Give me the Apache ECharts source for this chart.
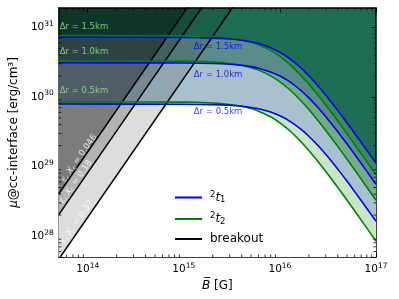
<!DOCTYPE html>
<html><head><meta charset="utf-8">
<script src="https://cdn.jsdelivr.net/npm/echarts@6/dist/echarts.min.js"></script>
<style>html,body{margin:0;padding:0;background:#fff}#c{width:399px;height:299px}</style>
</head><body><div id="c"></div>
<script>
// ---- data ----
const B = [5e13, 1e15, 2e15, 3e15, 4e15, 5e15, 6e15, 8e15, 1e16, 1.25e16, 1.6e16, 2e16, 2.5e16, 3.2e16, 4e16, 5e16, 6.3e16, 8e16, 1e17];
const t1_15 = [7.2e30, 7.15e30, 7.02e30, 6.81e30, 6.53e30, 6.21e30, 5.85e30, 5.11e30, 4.39e30, 3.6e30, 2.73e30, 2.02e30, 1.44e30, 9.53e29, 6.41e29, 4.23e29, 2.73e29, 1.72e29, 1.11e29];
const t2_15 = [7.65e30, 7.57e30, 7.36e30, 7.01e30, 6.59e30, 6.12e30, 5.62e30, 4.67e30, 3.83e30, 2.98e30, 2.15e30, 1.53e30, 1.06e30, 6.81e29, 4.50e29, 2.95e29, 1.88e29, 1.18e29, 7.57e28];
const t1_10 = [3.1e30, 3.08e30, 3.03e30, 2.95e30, 2.85e30, 2.73e30, 2.59e30, 2.29e30, 2.0e30, 1.67e30, 1.29e30, 9.7e29, 7.0e29, 4.68e29, 3.17e29, 2.10e29, 1.36e29, 8.59e28, 5.55e28];
const t2_10 = [3.3e30, 3.27e30, 3.17e30, 3.03e30, 2.84e30, 2.64e30, 2.43e30, 2.01e30, 1.65e30, 1.29e30, 9.27e29, 6.6e29, 4.55e29, 2.94e29, 1.94e29, 1.27e29, 8.11e28, 5.08e28, 3.27e28];
const t1_05 = [7.9e29, 7.86e29, 7.75e29, 7.58e29, 7.34e29, 7.06e29, 6.75e29, 6.06e29, 5.35e29, 4.53e29, 3.56e29, 2.72e29, 1.99e29, 1.35e29, 9.17e28, 6.13e28, 3.97e28, 2.51e28, 1.63e28];
const t2_05 = [8.5e29, 8.42e29, 8.17e29, 7.79e29, 7.33e29, 6.80e29, 6.25e29, 5.19e29, 4.25e29, 3.32e29, 2.39e29, 1.70e29, 1.17e29, 7.57e28, 5.00e28, 3.27e28, 2.09e28, 1.31e28, 8.42e27];

// breakout lines (mu ~ B^2), two points each
const bo046_B = [5e13, 1.5e15], bo046_mu = [4.06e28, 3.65e31];
const bo018_B = [5e13, 2e15],   bo018_mu = [2.03e28, 3.25e31];
const bo037_B = [5e13, 4e15],   bo037_mu = [4.66e27, 2.98e31];
const boValues = ['0.046', '0.18', '0.37'];
const boLabelAt = [[8.1e13, 1.31e29], [7.5e13, 6.05e28], [7.7e13, 1.6e28]];

const drNames = ['1.5', '1.0', '0.5'];
const drGreenAt = [[5.1e13, 1.03e31], [5.1e13, 4.5e30], [5.1e13, 1.22e30]];
const drBlueAt = [[1.27e15, 5.2e30], [1.27e15, 2.08e30], [1.27e15, 6.1e29]];

const xTickExp = [14, 15, 16, 17];
const yTickExp = [28, 29, 30, 31];
const xRange = [5e13, 1e17];
const yRange = [5e27, 1.9e31];

// ---- build ----
const FONT = 'DejaVu Sans';
const pts = (xs, ys) => xs.map((x, i) => [x, ys[i]]);
const hi = (a, b) => a.map((v, i) => Math.max(v, b[i]));
const lo = (a, b) => a.map((v, i) => Math.min(v, b[i]));
const SM = 0.35;

function fill(name, ys, color) {
  return { type: 'line', name, data: pts(B, ys), smooth: SM, symbol: 'none', silent: true,
    lineStyle: { width: 0, opacity: 0 }, areaStyle: { color, opacity: 1 }, z: 1 };
}
function curve(name, ys, color) {
  return { type: 'line', name, data: pts(B, ys), smooth: SM, symbol: 'none', silent: true,
    itemStyle: { color }, lineStyle: { width: 1.6, color }, z: 4 };
}
function breakout(xs, ys, alpha) {
  return { type: 'line', name: 'breakout', data: pts(xs, ys), symbol: 'none', silent: true,
    itemStyle: { color: '#000' }, lineStyle: { width: 1.5, color: '#000' },
    areaStyle: { origin: 'end', color: 'rgba(0,0,0,' + alpha + ')' }, z: 3 };
}
function supLabel(v) {
  const l = Math.log10(v), e = Math.round(l);
  if (Math.abs(l - e) > 0.01) return '';
  if (xTickExp.indexOf(e) < 0 && yTickExp.indexOf(e) < 0) return '';
  return '10{s|' + e + '}';
}
const tickRich = { s: { fontSize: 7.5, fontFamily: FONT, color: '#000', padding: [0, 0, 7, 0] } };
const LBL = '#ffffff';

const series = [
  fill('f1', hi(t1_15, t2_15), '#3a8a5b'),
  fill('f2', lo(t1_15, t2_15), '#5b8c89'),
  fill('f3', hi(t1_10, t2_10), '#74ab88'),
  fill('f4', lo(t1_10, t2_10), '#a8c1cf'),
  fill('f5', hi(t1_05, t2_05), '#c9e6c9'),
  fill('f6', lo(t1_05, t2_05), '#ffffff'),
  breakout(bo037_B, bo037_mu, 0.19),
  breakout(bo018_B, bo018_mu, 0.27),
  breakout(bo046_B, bo046_mu, 0.44),
  curve('t2', t2_15, '#008000'), curve('t2', t2_10, '#008000'), curve('t2', t2_05, '#008000'),
  curve('t1', t1_15, '#0000ff'), curve('t1', t1_10, '#0000ff'), curve('t1', t1_05, '#0000ff'),
  { type: 'scatter', name: 'drg', symbolSize: 0, silent: true, z: 6,
    data: drGreenAt.map((p, i) => ({ value: p, name: 'Δr = ' + drNames[i] + 'km' })),
    label: { show: true, position: 'right', distance: 0, formatter: '{b}', color: '#90ee90', fontSize: 8.5, fontFamily: FONT } },
  { type: 'scatter', name: 'drb', symbolSize: 0, silent: true, z: 6,
    data: drBlueAt.map((p, i) => ({ value: p, name: 'Δr = ' + drNames[i] + 'km' })),
    label: { show: true, position: 'right', distance: 0, formatter: '{b}', color: '#0000ff', fontSize: 8.5, fontFamily: FONT } },
  { type: 'scatter', name: 'bol', symbolSize: 0, silent: true, z: 6,
    data: boLabelAt.map((p, i) => ({ value: p, name: boValues[i] })),
    label: { show: true, position: 'inside', rotate: 55, color: LBL, fontSize: 8.5, fontFamily: FONT,
      formatter: p => '{i|ε}, {i|X}{b|c} = ' + p.name,
      rich: { i: { fontStyle: 'italic', fontSize: 8.5, fontFamily: FONT, color: LBL },
              b: { fontSize: 6, fontFamily: FONT, color: LBL, padding: [4, 0, 0, 0] } } } }
];

// minor ticks (log-style 2..9 per decade)
const minor = [];
for (let e = 13; e <= 16; e++) for (let k = 2; k <= 9; k++) { const v = k * Math.pow(10, e); if (v > xRange[0] && v < xRange[1]) minor.push([v, 1e29, 0]); }
for (let e = 27; e <= 31; e++) for (let k = 2; k <= 9; k++) { const v = k * Math.pow(10, e); if (v > yRange[0] && v < yRange[1]) minor.push([1e15, v, 1]); }
series.push({
  type: 'custom', name: 'minor', silent: true, clip: false, z: 10, data: minor,
  renderItem: function (params, api) {
    const cs = params.coordSys; const p = api.coord([api.value(0), api.value(1)]); const L = 2.5;
    const st = { stroke: '#000', lineWidth: 0.8 };
    if (api.value(2) === 0) {
      return { type: 'group', children: [
        { type: 'line', shape: { x1: p[0], y1: cs.y + cs.height, x2: p[0], y2: cs.y + cs.height - L }, style: st },
        { type: 'line', shape: { x1: p[0], y1: cs.y, x2: p[0], y2: cs.y + L }, style: st } ] };
    }
    return { type: 'group', children: [
      { type: 'line', shape: { x1: cs.x, y1: p[1], x2: cs.x + L, y2: p[1] }, style: st },
      { type: 'line', shape: { x1: cs.x + cs.width, y1: p[1], x2: cs.x + cs.width - L, y2: p[1] }, style: st } ] };
  }
});

const axCommon = {
  type: 'log', logBase: 10, splitLine: { show: false },
  axisLine: { show: true, lineStyle: { color: '#000', width: 1.5 } },
  axisTick: { show: true, inside: true, length: 4.5, lineStyle: { color: '#000', width: 1 } },
  minorTick: { show: false }
};

const option = {
  animation: false,
  backgroundColor: '#fff',
  grid: { left: 57, right: 23, top: 8, bottom: 42, show: true, backgroundColor: '#1e6e55', borderWidth: 0 },
  xAxis: [
    Object.assign({}, axCommon, { min: xRange[0], max: xRange[1], position: 'bottom',
      axisLabel: { formatter: supLabel, fontSize: 10.5, fontFamily: FONT, color: '#000', margin: 5, rich: tickRich, showMinLabel: true, showMaxLabel: true },
      name: '{i|B\u0305} [G]', nameLocation: 'middle', nameGap: 22,
      nameTextStyle: { fontSize: 12, fontFamily: FONT, color: '#000', rich: { i: { fontStyle: 'italic', fontSize: 12, fontFamily: FONT, color: '#000' } } } }),
    Object.assign({}, axCommon, { min: xRange[0], max: xRange[1], position: 'top', axisLabel: { show: false } })
  ],
  yAxis: [
    Object.assign({}, axCommon, { min: yRange[0], max: yRange[1], position: 'left',
      axisLabel: { formatter: supLabel, fontSize: 10.5, fontFamily: FONT, color: '#000', margin: 5, rich: tickRich },
      name: '{i|μ}@cc-interface [erg/cm³]', nameLocation: 'middle', nameGap: 31, nameRotate: 90,
      nameTextStyle: { fontSize: 12, fontFamily: FONT, color: '#000', rich: { i: { fontStyle: 'italic', fontSize: 12, fontFamily: FONT, color: '#000' } } } }),
    Object.assign({}, axCommon, { min: yRange[0], max: yRange[1], position: 'right', axisLabel: { show: false } })
  ],
  legend: {
    orient: 'vertical', left: 170, top: 185, itemWidth: 27, itemHeight: 2, itemGap: 7, icon: 'rect',
    data: ['t1', 't2', 'breakout'], selectedMode: false,
    formatter: n => n === 't1' ? '{s|2}{i|t}{b|1}' : (n === 't2' ? '{s|2}{i|t}{b|2}' : 'breakout'),
    textStyle: { fontSize: 12, fontFamily: FONT, color: '#000', padding: [0, 0, 0, 3],
      rich: { s: { fontSize: 8.5, fontFamily: FONT, padding: [0, 0, 6, 0] },
              i: { fontSize: 12, fontStyle: 'italic', fontFamily: FONT },
              b: { fontSize: 8.5, fontFamily: FONT, padding: [5, 0, 0, 0] } } }
  },
  series: series
};
const chart = echarts.init(document.getElementById('c'), null, { renderer: 'canvas' });
chart.setOption(option);
</script></body></html>
